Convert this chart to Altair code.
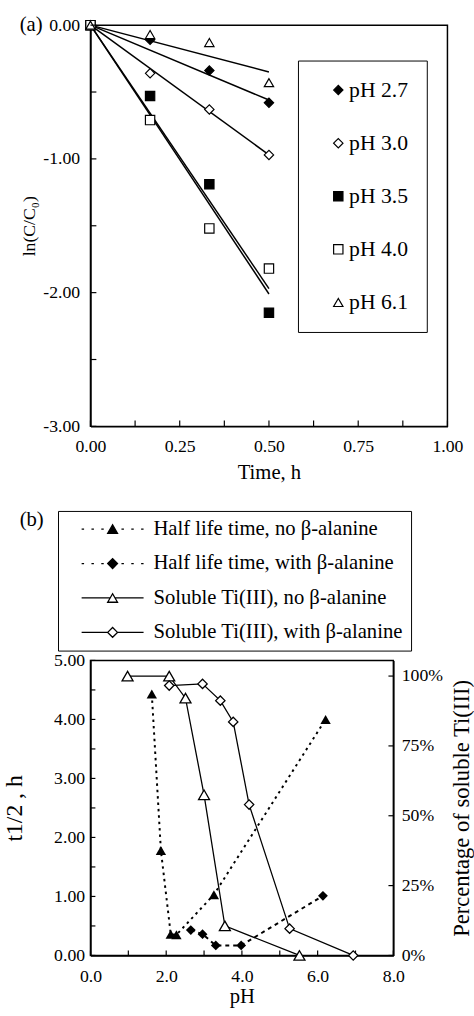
import altair as alt
import pandas as pd

FONT = "Liberation Serif"

# ---------------- Panel (a) data ----------------
time_h = [0.0, 0.167, 0.333, 0.5]
ph_labels = ["pH 2.7", "pH 3.0", "pH 3.5", "pH 4.0", "pH 6.1"]
ln_ph27 = [0.0, -0.11, -0.34, -0.58]
ln_ph30 = [0.0, -0.36, -0.63, -0.97]
ln_ph35 = [0.0, -0.53, -1.19, -2.15]
ln_ph40 = [0.0, -0.71, -1.52, -1.82]
ln_ph61 = [0.0, -0.07, -0.13, -0.43]
fit_time = [0.0, 0.5]
fit_start = [0.0, 0.0, 0.0, 0.0, 0.0]
fit_end = [-0.56, -0.97, -2.01, -1.97, -0.35]

a_xlabels = [0.0, 0.25, 0.5, 0.75, 1.0]
a_xticks = [0.0, 0.125, 0.25, 0.375, 0.5, 0.625, 0.75, 0.875, 1.0]
a_ylabels = [-3.0, -2.0, -1.0, 0.0]
a_yticks = [-3.0, -2.5, -2.0, -1.5, -1.0, -0.5, 0.0]

# ---------------- Panel (b) data ----------------
b_series = ["Half life time, no \u03b2-alanine", "Half life time, with \u03b2-alanine",
            "Soluble Ti(III), no \u03b2-alanine", "Soluble Ti(III), with \u03b2-alanine"]
hl_no_ph = [1.62, 1.86, 2.12, 2.27, 3.26, 6.21]
hl_no_t = [4.43, 1.78, 0.36, 0.35, 1.03, 4.00]
hl_b_ph = [2.65, 2.96, 3.31, 3.98, 6.14]
hl_b_t = [0.43, 0.36, 0.17, 0.17, 1.01]
sol_no_ph = [0.98, 2.08, 2.51, 3.00, 3.55, 5.52]
sol_no_pct = [1.00, 1.00, 0.921, 0.575, 0.106, 0.0]
sol_b_ph = [2.08, 2.96, 3.43, 3.77, 4.19, 5.26, 6.94]
sol_b_pct = [0.966, 0.972, 0.912, 0.836, 0.540, 0.096, 0.0]

b_xlabels = [0.0, 2.0, 4.0, 6.0, 8.0]
b_xticks = [0.0, 1.0, 2.0, 3.0, 4.0, 5.0, 6.0, 7.0, 8.0]
b_ylabels = [0.0, 1.0, 2.0, 3.0, 4.0, 5.0]
b_yticks = [0.0, 0.5, 1.0, 1.5, 2.0, 2.5, 3.0, 3.5, 4.0, 4.5, 5.0]
b_rlabels = [0.0, 0.25, 0.5, 0.75, 1.0]

# ---------------- sizes ----------------
WA, HA = 363, 408
WB, HB = 308, 300

# ---------------- Panel (a) ----------------
series_vals = [ln_ph27, ln_ph30, ln_ph35, ln_ph40, ln_ph61]
df_a = pd.DataFrame([
    {"series": s, "t": t, "v": v}
    for s, vals in zip(ph_labels, series_vals) for t, v in zip(time_h, vals)
])
df_fit = pd.DataFrame([
    {"series": s, "t": t, "v": v}
    for s, v0, v1 in zip(ph_labels, fit_start, fit_end) for t, v in zip(fit_time, [v0, v1])
])

ax_common = dict(ticks=False, tickSize=0, grid=False, labelFont=FONT, labelFontSize=18,
                 labelColor="black", titleFont=FONT, titleFontWeight="normal",
                 titleColor="black", domainColor="black", domainWidth=1.5, labelFlush=False)


def hy(fmt):
    return "(datum.value < 0 ? '-' : '') + format(abs(datum.value), '%s')" % fmt


xa = alt.X("t:Q", scale=alt.Scale(domain=[0, 1], nice=False, zero=False),
           axis=alt.Axis(values=a_xlabels, labelExpr=hy(".2f"), title="Time, h", titleFontSize=21,
                         labelPadding=12, titlePadding=6, **ax_common))
ya = alt.Y("v:Q", scale=alt.Scale(domain=[-3, 0], nice=False, zero=False),
           axis=alt.Axis(values=a_ylabels, labelExpr=hy(".2f"), title="ln(C/C\u2080)", titleFontSize=18,
                         labelPadding=11, titlePadding=4, **ax_common))

leg_a = alt.Legend(title=None, orient="none", legendX=211, legendY=36, strokeColor="black",
                   padding=19, rowPadding=32, symbolOffset=11, symbolSize=90,
                   symbolStrokeColor="black", symbolStrokeWidth=1.2, labelFontSize=22,
                   labelFont=FONT, labelOffset=0, labelColor="black", fillColor="white")

lines_a = alt.Chart(df_fit).mark_line(color="black", strokeWidth=1.5).encode(
    x=xa, y=ya, detail="series:N")
pts_a = alt.Chart(df_a).mark_point(strokeWidth=1.2, opacity=1, size=90).encode(
    x=xa, y=ya,
    shape=alt.Shape("series:N", scale=alt.Scale(domain=ph_labels,
                    range=["diamond", "diamond", "square", "square", "triangle-up"]), legend=leg_a),
    fill=alt.Fill("series:N", scale=alt.Scale(domain=ph_labels,
                  range=["black", "white", "black", "white", "white"]), legend=leg_a),
    stroke=alt.Stroke("series:N", scale=alt.Scale(domain=ph_labels,
                      range=["black"] * 5), legend=leg_a),
)
xt_a = alt.Chart(pd.DataFrame({"t": a_xticks})).mark_rule(color="black", strokeWidth=1.2).encode(
    x=xa, y=alt.value(HA), y2=alt.value(HA - 6))
yt_a = alt.Chart(pd.DataFrame({"v": a_yticks})).mark_rule(color="black", strokeWidth=1.2).encode(
    y=ya, x=alt.value(0), x2=alt.value(6))
lab_a = alt.Chart(pd.DataFrame({"lab": ["(a)"]})).mark_text(
    align="left", baseline="middle", font=FONT, fontSize=21, color="black").encode(
    text="lab:N", x=alt.value(-72), y=alt.value(0))

chart_a = alt.layer(lines_a, pts_a, xt_a, yt_a, lab_a).properties(width=WA, height=HA)

# ---------------- Panel (b) ----------------
df_hl_no = pd.DataFrame({"ph": hl_no_ph, "t": hl_no_t})
df_hl_b = pd.DataFrame({"ph": hl_b_ph, "t": hl_b_t})
df_sol_no = pd.DataFrame({"ph": sol_no_ph, "pct": sol_no_pct})
df_sol_b = pd.DataFrame({"ph": sol_b_ph, "pct": sol_b_pct})

xb = alt.X("ph:Q", scale=alt.Scale(domain=[0, 8], nice=False, zero=False),
           axis=alt.Axis(values=b_xlabels, format=".1f", title="pH", titleFontSize=21,
                         labelPadding=12, titlePadding=1, **ax_common))
yb = alt.Y("t:Q", scale=alt.Scale(domain=[0, 5], nice=False, zero=False),
           axis=alt.Axis(values=b_ylabels, format=".2f", title="t1/2 , h", titleFontSize=24,
                         labelPadding=6, titlePadding=28, **ax_common))
yr = alt.Y("pct:Q", scale=alt.Scale(domain=[0, 1.056], nice=False, zero=False),
           axis=alt.Axis(orient="right", values=b_rlabels, format=".0%",
                         title="Percentage of soluble Ti(III)", titleFontSize=23, titleAngle=270,
                         titleBaseline="top", labelPadding=8, titlePadding=8, **ax_common))

hl_no_line = alt.Chart(df_hl_no).mark_line(color="black", strokeWidth=2, strokeDash=[2.5, 4]).encode(x=xb, y=yb)
hl_b_line = alt.Chart(df_hl_b).mark_line(color="black", strokeWidth=2, strokeDash=[4, 4]).encode(x=xb, y=yb)
hl_no_pts = alt.Chart(df_hl_no).mark_point(shape="triangle-up", filled=True, color="black",
                                           opacity=1, size=110).encode(x=xb, y=yb)
hl_b_pts = alt.Chart(df_hl_b).mark_point(shape="diamond", filled=True, color="black",
                                         opacity=1, size=100).encode(x=xb, y=yb)
yt_b = alt.Chart(pd.DataFrame({"t": b_yticks})).mark_rule(color="black", strokeWidth=1.2).encode(
    y=yb, x=alt.value(0), x2=alt.value(5))
xt_b = alt.Chart(pd.DataFrame({"ph": b_xticks})).mark_rule(color="black", strokeWidth=1.2).encode(
    x=xb, y=alt.value(HB), y2=alt.value(HB - 5))
left_group = alt.layer(hl_no_line, hl_b_line, hl_no_pts, hl_b_pts, yt_b, xt_b)

sol_no_line = alt.Chart(df_sol_no).mark_line(color="black", strokeWidth=1.3).encode(x=xb, y=yr)
sol_b_line = alt.Chart(df_sol_b).mark_line(color="black", strokeWidth=1.3).encode(x=xb, y=yr)
sol_no_pts = alt.Chart(df_sol_no).mark_point(shape="triangle-up", fill="white", stroke="black",
                                             strokeWidth=1.3, opacity=1, size=125).encode(x=xb, y=yr)
sol_b_pts = alt.Chart(df_sol_b).mark_point(shape="diamond", fill="white", stroke="black",
                                           strokeWidth=1.3, opacity=1, size=90).encode(x=xb, y=yr)
rt_b = alt.Chart(pd.DataFrame({"pct": b_rlabels})).mark_rule(color="black", strokeWidth=1.2).encode(
    y=yr, x=alt.value(WB), x2=alt.value(WB - 5))
right_group = alt.layer(sol_no_line, sol_b_line, sol_no_pts, sol_b_pts, rt_b)

dots = "M-6.3,0L-5.8,0M-4.3,0L-3.8,0M-2.3,0L-1.8,0M1.8,0L2.3,0M3.8,0L4.3,0M5.8,0L6.3,0"
tri = "M-1,0.866L0,-0.866L1,0.866Z"
dia = "M-1,0L0,-1L1,0L0,1Z"
leg_paths = [dots + tri, dots + dia,
             "M-6.3,0L-0.5,0M0.5,0L6.3,0" + tri,
             "M-6.3,0L-1,0M1,0L6.3,0" + dia]
leg_fills = ["black", "black", "white", "white"]

leg_b = alt.Legend(title=None, orient="none", legendX=-33, legendY=-152, strokeColor="black",
                   padding=8, rowPadding=13, symbolOffset=37, symbolSize=100,
                   symbolStrokeColor="black", symbolStrokeWidth=1.3, labelFontSize=21,
                   labelFont=FONT, labelOffset=31, labelLimit=400, labelColor="black",
                   fillColor="white")
legend_layer = alt.Chart(pd.DataFrame({"series": b_series})).transform_filter(
    "datum.series == 'none'").mark_point(strokeWidth=1.3, opacity=1).encode(
    x=alt.value(0), y=alt.value(0),
    shape=alt.Shape("series:N", scale=alt.Scale(domain=b_series, range=leg_paths), legend=leg_b),
    fill=alt.Fill("series:N", scale=alt.Scale(domain=b_series, range=leg_fills), legend=leg_b),
    stroke=alt.Stroke("series:N", scale=alt.Scale(domain=b_series, range=["black"] * 4), legend=leg_b),
)
lab_b = alt.Chart(pd.DataFrame({"lab": ["(b)"]})).mark_text(
    align="left", baseline="middle", font=FONT, fontSize=21, color="black").encode(
    text="lab:N", x=alt.value(-72), y=alt.value(-143))

chart_b = alt.layer(left_group, right_group, legend_layer, lab_b).resolve_scale(
    y="independent", shape="independent", fill="independent", stroke="independent"
).properties(width=WB, height=HB)

chart = alt.vconcat(chart_a, chart_b, spacing=25).properties(
    padding={"left": 1, "top": 5, "right": 0, "bottom": 0}
).configure(font=FONT).configure_view(stroke="black", strokeWidth=1.5).configure_axis(
    labelFont=FONT, titleFont=FONT).configure_legend(labelFont=FONT)

chart.save("out.html", embed_options={"renderer": "svg", "actions": False})
